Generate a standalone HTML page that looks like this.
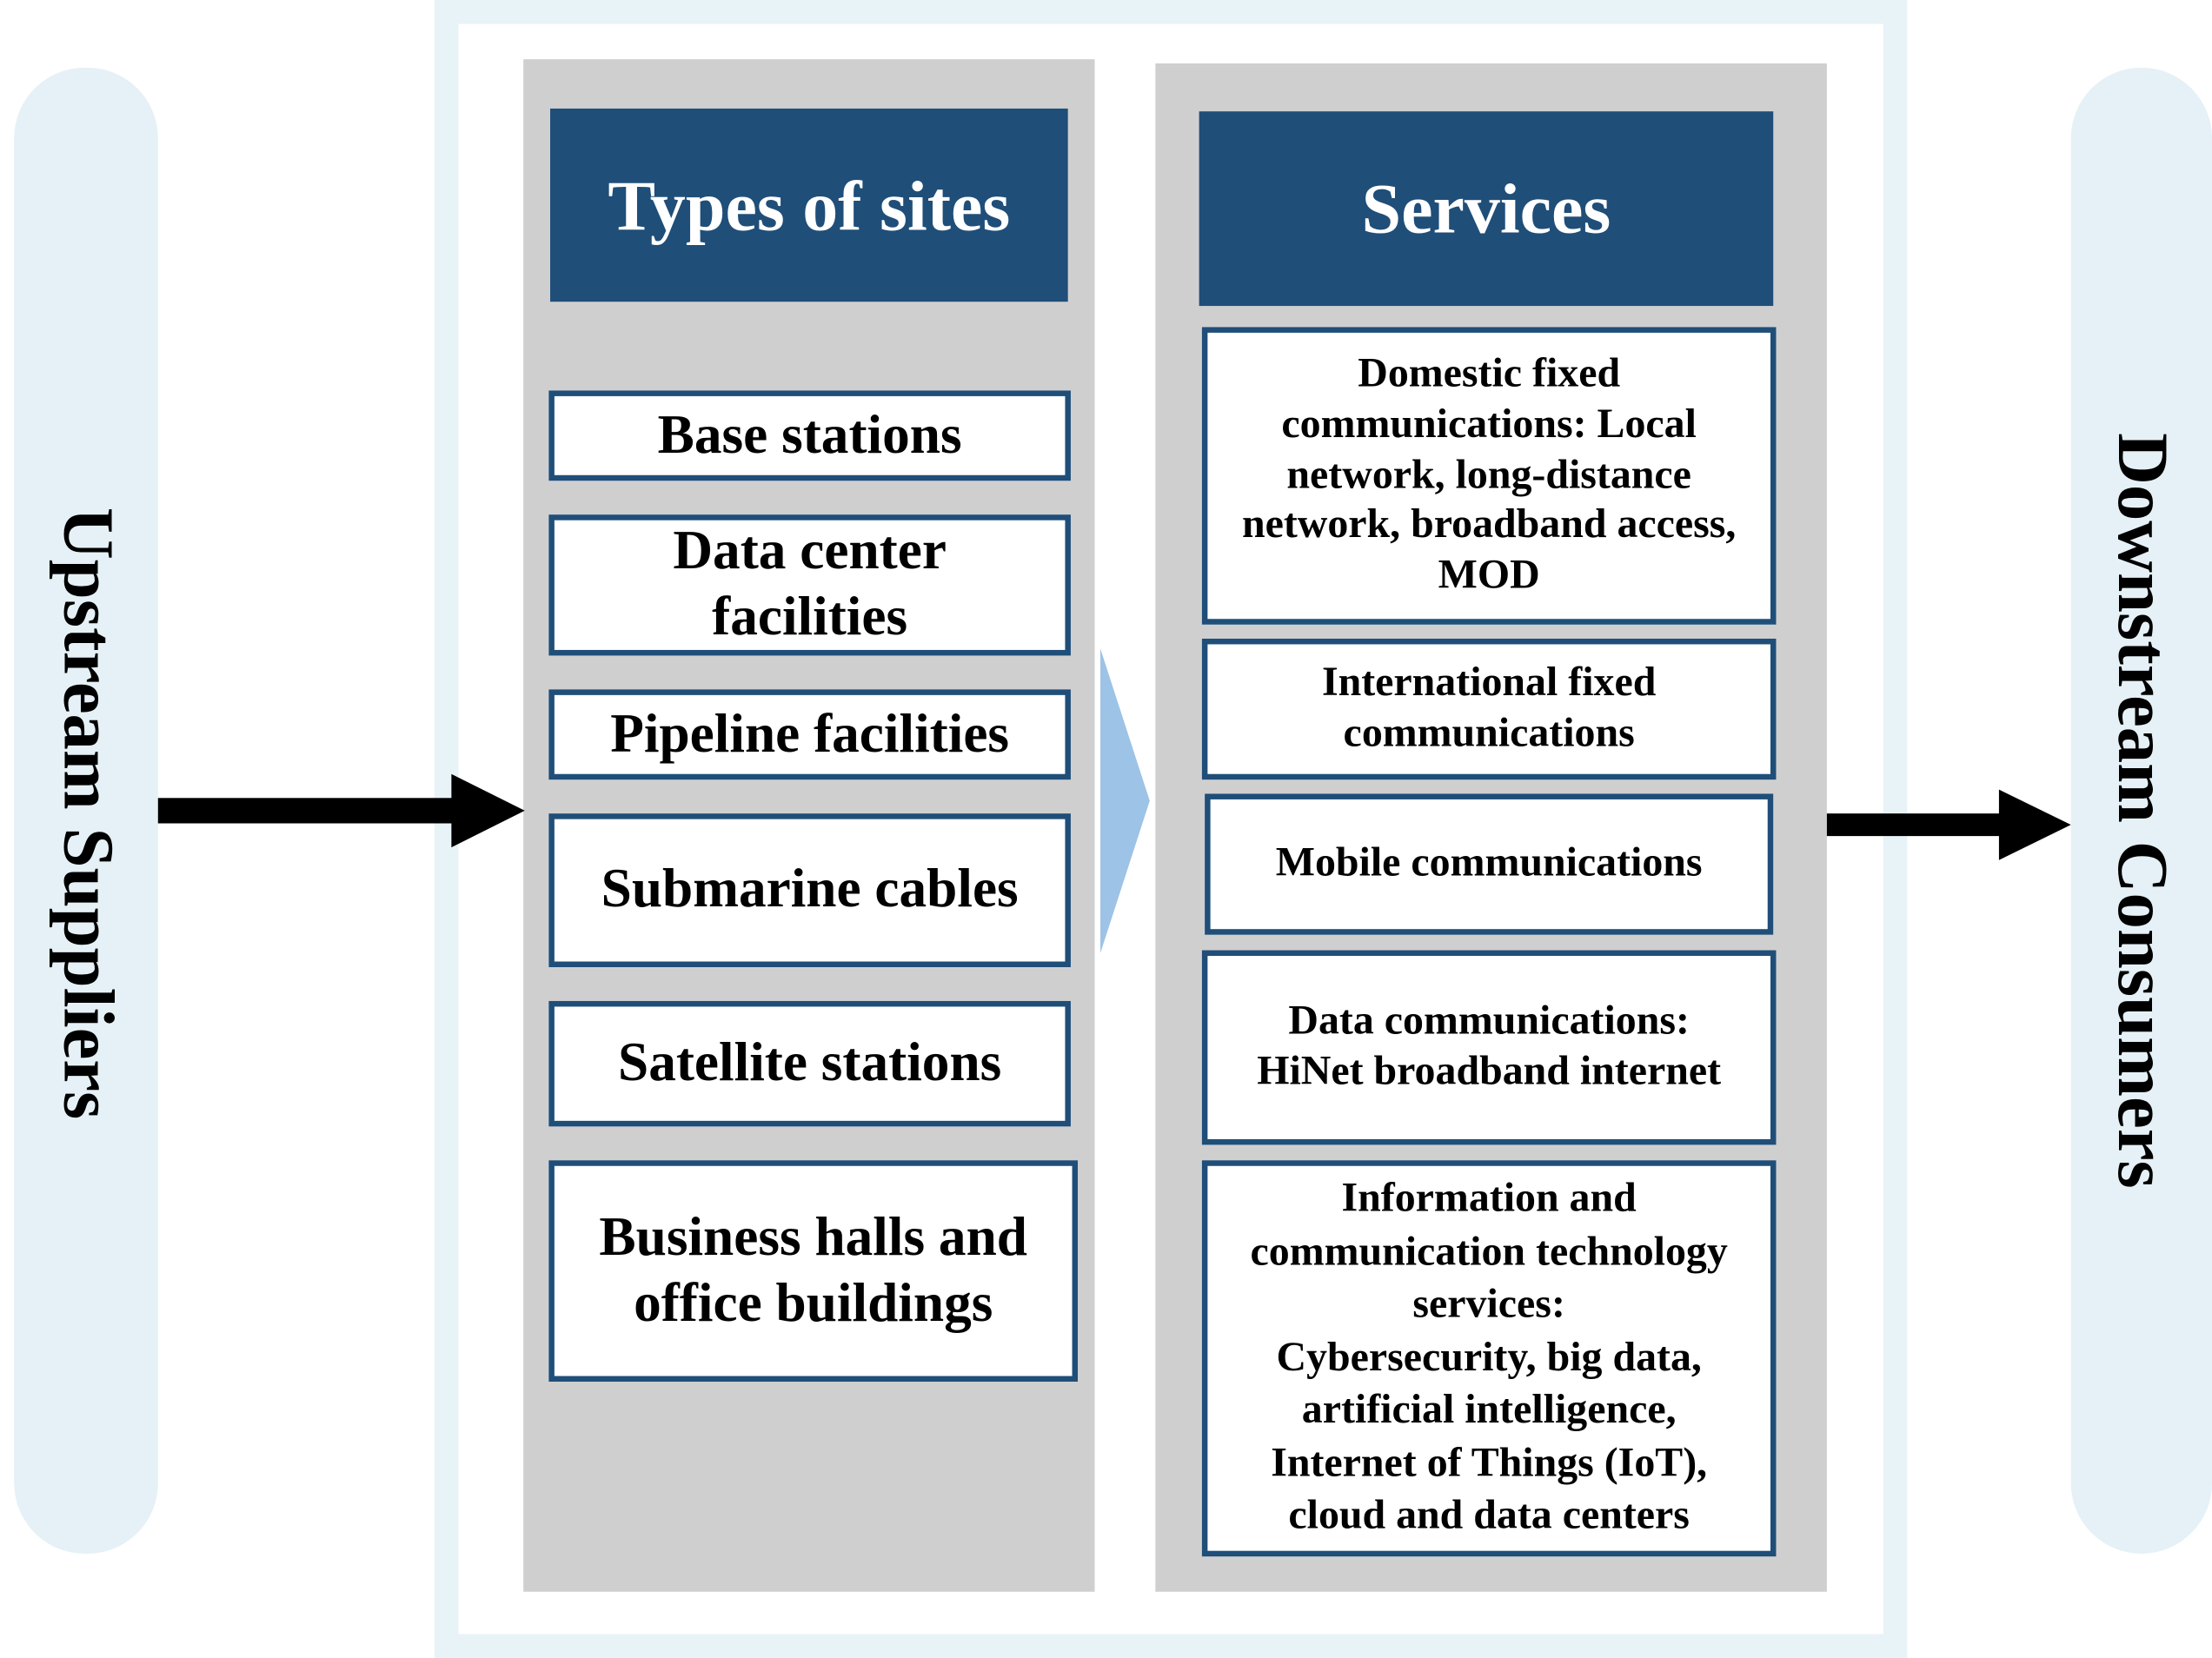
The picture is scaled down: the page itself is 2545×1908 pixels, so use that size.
<!DOCTYPE html>
<html><head><meta charset="utf-8"><style>
html,body{margin:0;padding:0;background:#fff;}
body{width:2545px;height:1908px;overflow:hidden;position:relative;}
#w{position:absolute;left:0;top:0;width:1568px;height:1176px;transform-origin:0 0;transform:scale(1.62309,1.62245);font-family:"Liberation Serif",serif;font-weight:bold;}
.a{position:absolute;box-sizing:border-box;}
.pill{background:#e5f1f6;border-radius:50px;}
.gray{background:#d0cfd0;}
.hdr{background:#1f4e79;color:#fff;display:flex;align-items:center;justify-content:center;font-size:50.5px;}
.bx{background:#fff;border:4px solid #1f4e79;display:flex;align-items:center;justify-content:center;text-align:center;color:#000;line-height:1.2;white-space:nowrap;}
.l{font-size:39px;}
.r{font-size:29.5px;line-height:1.22;}
.vt{position:absolute;white-space:nowrap;font-size:51px;transform:translate(-50%,-50%) rotate(90deg);}
</style></head><body><div id="w">
<div class="a pill" style="left:10px;top:48px;width:102px;height:1054px"></div>
<div class="a pill" style="left:1468px;top:48px;width:100px;height:1054px"></div>
<div class="vt" style="left:62px;top:577px">Upstream Suppliers</div>
<div class="vt" style="left:1518px;top:575px">Downstream Consumers</div>
<div class="a" style="left:308px;top:0;width:1044px;height:1176px;border:17px solid #e8f3f8;"></div>
<div class="a gray" style="left:371px;top:42px;width:405px;height:1087px"></div>
<div class="a gray" style="left:819px;top:45px;width:476px;height:1084px"></div>
<div class="a hdr" style="left:390px;top:77px;width:367px;height:137px">Types of sites</div>
<div class="a hdr" style="left:850px;top:79px;width:407px;height:138px">Services</div>
<div class="a bx l" style="left:389px;top:277px;width:370px;height:64px">Base stations</div>
<div class="a bx l" style="left:389px;top:365px;width:370px;height:100px">Data center<br>facilities</div>
<div class="a bx l" style="left:389px;top:489px;width:370px;height:64px">Pipeline facilities</div>
<div class="a bx l" style="left:389px;top:577px;width:370px;height:109px">Submarine cables</div>
<div class="a bx l" style="left:389px;top:710px;width:370px;height:89px">Satellite stations</div>
<div class="a bx l" style="left:389px;top:823px;width:375px;height:157px">Business halls and<br>office buildings</div>
<div class="a bx r" style="left:852px;top:232px;width:407px;height:211px">Domestic fixed<br>communications: Local<br>network, long-distance<br>network, broadband access,<br>MOD</div>
<div class="a bx r" style="left:852px;top:453px;width:407px;height:100px">International fixed<br>communications</div>
<div class="a bx r" style="left:854px;top:563px;width:403px;height:100px">Mobile communications</div>
<div class="a bx r" style="left:852px;top:674px;width:407px;height:138px">Data communications:<br>HiNet broadband internet</div>
<div class="a bx r" style="left:852px;top:823px;width:407px;height:281px;line-height:1.27">Information and<br>communication technology<br>services:<br>Cybersecurity, big data,<br>artificial intelligence,<br>Internet of Things (IoT),<br>cloud and data centers</div>
<svg class="a" style="left:0;top:0" width="1568" height="1176">
<polygon points="780,460 815,568 780,676" fill="#9dc3e6"/>
<rect x="112" y="566" width="210" height="18" fill="#000"/>
<polygon points="320,549 372,575 320,601" fill="#000"/>
<rect x="1295" y="577" width="125" height="16" fill="#000"/>
<polygon points="1417,560 1468,585 1417,610" fill="#000"/>
</svg>
</div></body></html>
